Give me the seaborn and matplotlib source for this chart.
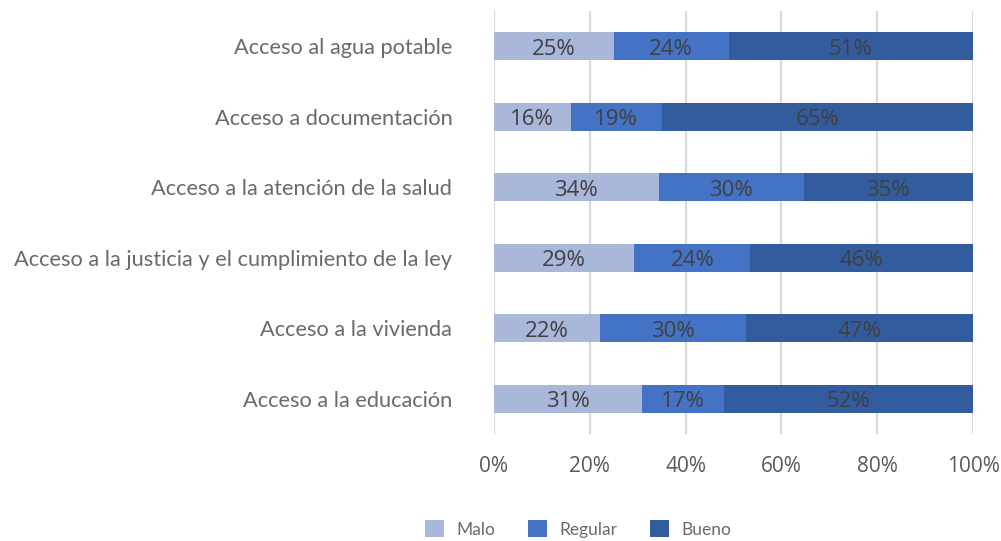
import matplotlib
matplotlib.use("Agg")
import matplotlib.pyplot as plt
import seaborn as sns
import pandas as pd
import numpy as np
from matplotlib.patches import Patch

categories = [
    "Acceso al agua potable",
    "Acceso a documentación",
    "Acceso a la atención de la salud",
    "Acceso a la justicia y el cumplimiento de la ley",
    "Acceso a la vivienda",
    "Acceso a la educación",
]
malo = [25, 16, 34, 29, 22, 31]
regular = [24, 19, 30, 24, 30, 17]
bueno = [51, 65, 35, 46, 47, 52]
series_names = ["Malo", "Regular", "Bueno"]
colors = ["#A9B7DB", "#4472C4", "#335C9F"]
xticks = [0, 20, 40, 60, 80, 100]

sns.set_theme(style="white")
plt.rcParams["font.family"] = ["Lato", "DejaVu Sans"]

df = pd.DataFrame({"cat": categories, "Malo": malo, "Regular": regular, "Bueno": bueno})
tot = df[series_names].sum(axis=1)
for s in series_names:
    df[s + "_pct"] = df[s] / tot * 100
df["c1"] = df["Malo_pct"]
df["c2"] = df["c1"] + df["Regular_pct"]
df["c3"] = df["c2"] + df["Bueno_pct"]

fig = plt.figure(figsize=(10.01, 5.41), dpi=100)
ax = fig.add_axes([494 / 1001, 1 - 434 / 541, (973 - 494) / 1001, (434 - 11) / 541])

for col, color in zip(["c3", "c2", "c1"], colors[::-1]):
    sns.barplot(data=df, x=col, y="cat", order=categories, orient="h", color=color,
                width=0.4, ax=ax, saturation=1, edgecolor="none", linewidth=0, zorder=3)

# data labels
for i, row in df.iterrows():
    starts = [0, row["c1"], row["c2"]]
    for s, st in zip(series_names, starts):
        w = row[s + "_pct"]
        ax.text(st + w / 2, i + 0.04, f"{row[s]}%", ha="center", va="center",
                fontsize=16, color="#404040", family=["Open Sans", "DejaVu Sans"], zorder=4)

ax.set_xlim(0, 100)
ax.set_ylim(5.5, -0.5)
ax.set_xticks(xticks)
ax.set_xticklabels([f"{t}%" for t in xticks], family=["Open Sans", "DejaVu Sans"],
                   fontsize=15, color="#595959")
ax.tick_params(axis="x", length=0, pad=16)
ax.tick_params(axis="y", length=0, pad=30, labelsize=15.7, labelcolor="#6A6A6A")
ax.set_xlabel("")
ax.set_ylabel("")
ax.grid(axis="x", color="#D9D9D9", linewidth=1.6, zorder=0)
ax.set_axisbelow(True)
for sp in ax.spines.values():
    sp.set_visible(False)

handles = [Patch(facecolor=c, edgecolor="none", label=n) for n, c in zip(series_names, colors)]
fig.legend(handles=handles, loc="center", bbox_to_anchor=(578 / 1001, 1 - 529 / 541), ncol=3,
           frameon=False, labelcolor="#6A6A6A", handlelength=1.1,
           handleheight=1.1, columnspacing=1.9, handletextpad=0.7,
           prop={"family": ["Lato", "DejaVu Sans"], "size": 12.5})

fig.savefig("out.png", dpi=100)
